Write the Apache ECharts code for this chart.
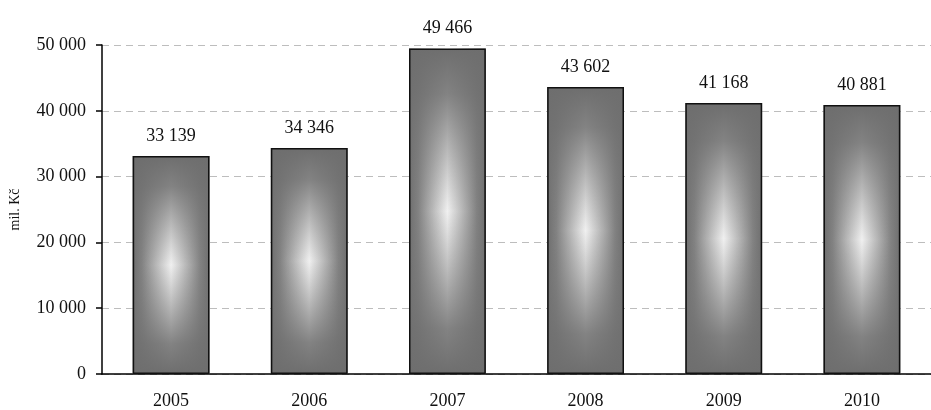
<!DOCTYPE html>
<html>
<head>
<meta charset="utf-8">
<script src="https://cdn.jsdelivr.net/npm/echarts@6/dist/echarts.min.js"></script>
<style>html,body{margin:0;padding:0;background:#fff;}#c{width:931px;height:410px;}</style>
</head>
<body>
<div id="c"></div>
<script>
var categories = ['2005', '2006', '2007', '2008', '2009', '2010'];
var values = [33139, 34346, 49466, 43602, 41168, 40881];
var yTicks = [0, 10000, 20000, 30000, 40000, 50000];
var yAxisName = 'mil. Kč';

function fmt(v) {
  return String(v).replace(/\B(?=(\d{3})+(?!\d))/g, ' ');
}
var FONT = '"Liberation Serif", "DejaVu Serif", serif';
var chart = echarts.init(document.getElementById('c'), null, {renderer: 'canvas'});
chart.setOption({
  animation: false,
  backgroundColor: '#fff',
  grid: {left: 101, top: 45, width: 842, height: 330, containLabel: false},
  xAxis: {
    type: 'category',
    data: categories,
    axisLine: {lineStyle: {color: '#000', width: 1.5}},
    axisTick: {show: false},
    axisLabel: {color: '#111', fontFamily: FONT, fontSize: 18, margin: 18}
  },
  yAxis: {
    type: 'value',
    min: yTicks[0],
    max: yTicks[yTicks.length - 1],
    interval: yTicks[1] - yTicks[0],
    name: yAxisName,
    nameLocation: 'middle',
    nameGap: 80,
    nameTextStyle: {color: '#111', fontFamily: FONT, fontSize: 14},
    axisLine: {show: true, lineStyle: {color: '#000', width: 1.5}},
    axisTick: {show: true, length: 6, lineStyle: {color: '#000', width: 1.5}},
    axisLabel: {color: '#111', fontFamily: FONT, fontSize: 18, margin: 16, formatter: fmt},
    splitLine: {show: true, lineStyle: {color: '#bdbdbd', width: 1, type: [7, 5]}}
  },
  series: [
    {
      type: 'bar',
      data: values,
      barWidth: '55.6%',
      itemStyle: {
        color: {
          type: 'linear', x: 0, y: 0, x2: 1, y2: 0,
          colorStops: [
            {offset: 0, color: '#6e6e6e'},
            {offset: 0.12, color: '#828282'},
            {offset: 0.5, color: '#f0f0f0'},
            {offset: 0.88, color: '#828282'},
            {offset: 1, color: '#6e6e6e'}
          ]
        }
      },
      z: 2
    },
    {
      type: 'bar',
      data: values,
      barWidth: '55.6%',
      barGap: '-100%',
      itemStyle: {
        borderColor: '#111',
        borderWidth: 1.5,
        color: {
          type: 'linear', x: 0, y: 0, x2: 0, y2: 1,
          colorStops: [
            {offset: 0, color: 'rgba(110,110,110,1)'},
            {offset: 0.14, color: 'rgba(112,112,112,0.85)'},
            {offset: 0.5, color: 'rgba(120,120,120,0)'},
            {offset: 0.86, color: 'rgba(112,112,112,0.85)'},
            {offset: 1, color: 'rgba(110,110,110,1)'}
          ]
        }
      },
      label: {
        show: true,
        position: 'top',
        distance: 11,
        color: '#111',
        fontFamily: FONT,
        fontSize: 18,
        formatter: function (p) { return fmt(p.value); }
      },
      z: 3
    }
  ]
});
</script>
</body>
</html>
